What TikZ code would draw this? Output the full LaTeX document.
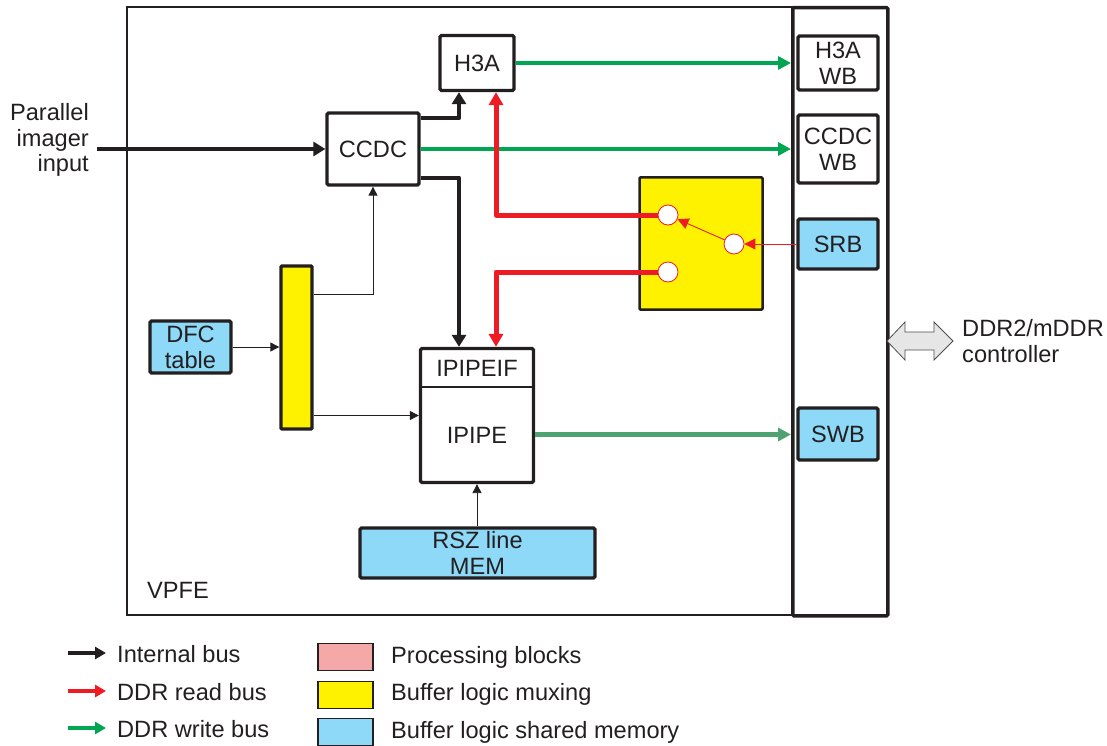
\documentclass[tikz,border=0pt]{standalone}
\usepackage{fontspec}
\setmainfont{Liberation Sans}
\usetikzlibrary{arrows.meta,calc}
\definecolor{tiblack}{HTML}{231F20}
\definecolor{ddrred}{HTML}{ED1C24}
\definecolor{ddrgreen}{HTML}{00A651}
\definecolor{swbgreen}{HTML}{4FA372}
\definecolor{muxyellow}{HTML}{FFF200}
\definecolor{memblue}{HTML}{8ED8F8}
\definecolor{procpink}{HTML}{F4A9A8}
\definecolor{ddrgray}{HTML}{E6E6E6}
\begin{document}
\begin{tikzpicture}[x=1pt,y=-1pt,
  font=\fontsize{23.6}{25.8}\selectfont,
  text=tiblack,
  blk/.style={draw=tiblack, line width=3.3pt, fill=white, inner sep=0pt, rounded corners=1.5pt, align=center},
  memblk/.style={blk, fill=memblue},
  muxblk/.style={draw=tiblack, line width=2.5pt, fill=muxyellow, inner sep=0pt, rounded corners=1pt},
  sw/.style={circle, draw=ddrred, line width=0.8pt, fill=white, minimum size=20pt, inner sep=0pt},
  intbus/.style={draw=tiblack, line width=4pt, line join=round, -{Triangle[length=12pt,width=14pt]}},
  readbus/.style={draw=ddrred, line width=5pt, line join=round, -{Triangle[length=13pt,width=14pt]}},
  writebus/.style={draw=ddrgreen, line width=4.5pt, -{Triangle[length=13pt,width=13pt]}},
  swbbus/.style={draw=swbgreen, line width=4.5pt, -{Triangle[length=13pt,width=13pt]}},
  thinarrow/.style={draw=tiblack, line width=0.9pt, -{Triangle[length=9pt,width=9pt]}},
  thinred/.style={draw=ddrred, line width=0.9pt, -{Triangle[length=11pt,width=11pt]}},
  legbox/.style={draw=tiblack, line width=1.5pt, minimum width=55pt, minimum height=27pt, inner sep=0pt},
  lbl/.style={inner sep=0pt, anchor=base west}
]
\useasboundingbox (0,0) rectangle (1107,746);

% outer frames
\node[draw=tiblack, line width=2pt, minimum width=665pt, minimum height=608pt, inner sep=0pt, anchor=north west] (vpfe) at (126,6) {};
\node[draw=tiblack, line width=3.5pt, minimum width=95pt, minimum height=608pt, inner sep=0pt, anchor=north west, rounded corners=1pt] (bus) at (791,6) {};
\node[lbl] (vpfelbl) at (147,598) {VPFE};

% blocks
\node[blk, minimum width=74pt, minimum height=55pt] (h3a) at (477,63) {H3A};
\node[blk, minimum width=92pt, minimum height=72pt] (ccdc) at (373,149) {CCDC};
\node[blk, minimum width=80pt, minimum height=54pt] (h3awb) at (838,63) {H3A\\WB};
\node[blk, minimum width=80pt, minimum height=68pt] (ccdcwb) at (838,149) {CCDC\\WB};
\node[memblk, minimum width=80pt, minimum height=50pt] (srb) at (838,244) {SRB};
\node[memblk, minimum width=80pt, minimum height=52pt] (swb) at (838,434) {SWB};
\node[muxblk, minimum width=123pt, minimum height=132pt] (mux) at (701,243.5) {};
\node[muxblk, line width=3.3pt, minimum width=31pt, minimum height=163pt] (bar) at (296.5,347.5) {};
\node[memblk, minimum width=81pt, minimum height=52pt] (dfc) at (190.5,347) {DFC\\table};
\node[blk, minimum width=113pt, minimum height=134pt] (ipipe) at (477,415.5) {};
\draw[tiblack, line width=1.2pt] (ipipe.west |- 0,387) -- (ipipe.east |- 0,387);
\node[inner sep=0pt] (ipipeif) at (477,368) {IPIPEIF};
\node[inner sep=0pt] (ipipetxt) at (477,435) {IPIPE};
\node[memblk, minimum width=235pt, minimum height=50pt] (rsz) at (477.5,553) {RSZ line\\MEM};

% switch circles
\node[sw] (c1) at (668,215) {};
\node[sw] (c2) at (734,244) {};
\node[sw] (c3) at (668,272) {};

% input
\node[inner sep=0pt, align=right, anchor=east] (inlbl) at (89,140) {Parallel\\imager\\input};
\coordinate (in) at (97,149);
\draw[intbus] (in) -- (ccdc.west);

% internal buses
\draw[intbus] ([yshift=-7pt]ccdc.north east) -| ([xshift=-18pt]h3a.south);
\draw[intbus] ([yshift=9pt]ccdc.south east) -| ([xshift=-18pt]ipipe.north);

% write buses
\draw[writebus] (h3a.east) -- (h3a.east -| bus.west);
\draw[writebus] (ccdc.east) -- (ccdc.east -| bus.west);
\draw[swbbus] ([yshift=-19pt]ipipe.east) -- ([yshift=-19pt]ipipe.east -| bus.west);

% read buses
\draw[readbus] (c1.west) -| ([xshift=19pt]h3a.south);
\draw[readbus] (c3.west) -| ([xshift=19pt]ipipe.north);
\draw[thinred] (srb.west) -- (c2.east);
\draw[thinred] (c2) -- (c1);

% thin internal
\draw[thinarrow] (dfc.east) -- (dfc.east -| bar.west);
\draw[thinarrow] ([yshift=53.5pt]bar.east) -| (ccdc.south);
\draw[thinarrow] (bar.east |- ipipe.west) -- (ipipe.west);
\draw[thinarrow] (rsz.north -| ipipe.south) -- (ipipe.south);

% DDR double arrow
\draw[draw=tiblack!80, line width=0.8pt, fill=ddrgray, line join=miter]
  (887,341) -- (905,322) -- (905,332) -- (934,332) -- (934,322) -- (953,341)
  -- (934,360) -- (934,350) -- (905,350) -- (905,360) -- cycle;
\node[inner sep=0pt, align=left, anchor=west] (ddrlbl) at (962,341) {DDR2/mDDR\\controller};

% legend
\coordinate (la1) at (68,653); \coordinate (lb1) at (106,653);
\coordinate (la2) at (68,691); \coordinate (lb2) at (106,691);
\coordinate (la3) at (68,728); \coordinate (lb3) at (106,728);
\draw[draw=tiblack, line width=4pt, -{Triangle[length=11pt,width=12pt]}] (la1) -- (lb1);
\draw[draw=ddrred, line width=4pt, -{Triangle[length=11pt,width=12pt]}] (la2) -- (lb2);
\draw[draw=ddrgreen, line width=4pt, -{Triangle[length=11pt,width=12pt]}] (la3) -- (lb3);
\node[lbl] (l1) at (117,662) {Internal bus};
\node[lbl] (l2) at (117,700) {DDR read bus};
\node[lbl] (l3) at (117,737) {DDR write bus};
\node[legbox, fill=procpink] (k1) at (345.5,657) {};
\node[legbox, fill=muxyellow] (k2) at (345.5,695) {};
\node[legbox, fill=memblue] (k3) at (345.5,732) {};
\node[lbl] (t1) at (391,663) {Processing blocks};
\node[lbl] (t2) at (391,700) {Buffer logic muxing};
\node[lbl] (t3) at (391,738) {Buffer logic shared memory};
\end{tikzpicture}
\end{document}
